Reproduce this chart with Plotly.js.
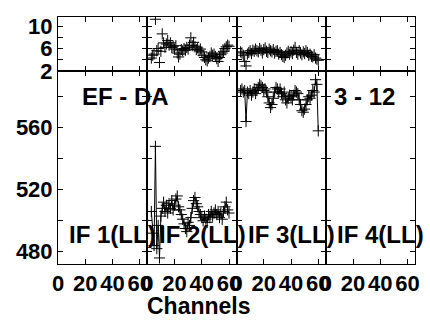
<!DOCTYPE html>
<html><head><meta charset="utf-8">
<script src="https://cdn.plot.ly/plotly-3.0.1.min.js"></script>
<style>html,body{margin:0;padding:0;background:#fff}</style>
</head><body><div id="chart" style="width:430px;height:326px"></div>
<script>
const channels = [3,4,5,6,7,8,9,10,11,12,13,14,15,16,17,18,19,20,21,22,23,24,25,26,27,28,29,30,31,32,33,34,35,36,37,38,39,40,41,42,43,44,45,46,47,48,49,50,51,52,53,54,55,56,57,58,59,60];
const ampIF2 = [4.3,4.8,5.0,11.2,5.6,6.0,3.5,5.5,8.6,7.0,6.2,6.8,7.4,6.6,7.0,6.2,6.4,5.9,6.5,5.2,4.5,5.0,5.8,5.6,6.0,5.7,6.2,5.9,6.6,7.9,6.5,7.1,6.3,5.8,6.1,5.6,5.9,5.4,4.8,4.4,4.0,3.8,4.3,4.6,5.2,4.8,5.0,4.6,4.2,3.7,4.4,4.9,5.2,5.5,6.0,6.3,6.6,6.4];
const ampIF3 = [5.4,5.2,4.8,3.7,2.9,5.0,5.3,5.6,5.1,5.7,5.5,5.9,5.6,5.4,6.0,5.7,5.2,5.8,6.1,5.5,5.3,5.9,5.6,5.4,5.8,5.2,5.5,5.6,5.0,5.3,4.9,4.6,4.4,4.8,5.2,5.5,5.0,5.4,5.1,5.7,6.2,5.3,5.0,5.6,5.2,4.9,5.4,5.1,5.6,5.3,4.8,5.0,4.6,4.5,4.9,4.3,4.1,3.9];
const phaseIF2 = [506,492,484,548,482,497,476,503,508,512,506,510,505,511,508,513,507,510,514,516,509,507,504,501,498,495,493,499,497,502,508,513,515,511,509,506,504,502,500,503,501,499,504,502,506,503,505,507,504,506,502,505,501,506,509,512,507,505];
const phaseIF3 = [584,585,583,584,564,583,582,584,581,583,585,582,584,586,588,587,586,584,585,583,580,576,573,575,579,583,586,585,583,585,582,580,583,578,576,579,581,580,578,581,584,583,582,578,575,571,570,572,575,578,580,579,581,584,583,591,588,558];
const ifLabels = ['IF 1(LL)','IF 2(LL)','IF 3(LL)','IF 4(LL)'];
const baselineLabel = 'EF - DA';
const timeLabel = '3 - 12';
const xTitle = 'Channels';
const xTickVals = [0,20,40,60];
const ampTickVals = [2,4,6,8,10];
const ampTickText = ['2','','6','','10'];
const phaseTickVals = [480,500,520,540,560,580];
const phaseTickText = ['480','','520','','560',''];

const W = 430, H = 326, ML = 58, MR = 15, MT = 17, MB = 62;
const PW = W - ML - MR, PH = H - MT - MB;
const split = 1 - 54 / PH;
const fontFam = 'Liberation Sans, Arial, sans-serif';
const tickFont = {family: fontFam, size: 22, color: '#000', weight: 'bold'};
const annFont = {family: fontFam, size: 24, color: '#000', weight: 'bold'};

const ampData = [null, ampIF2, ampIF3, null];
const phaseData = [null, phaseIF2, phaseIF3, null];

const traces = [];
const layout = {
  width: W, height: H,
  margin: {l: ML, r: MR, t: MT, b: MB},
  paper_bgcolor: '#fff', plot_bgcolor: '#fff',
  showlegend: false,
  annotations: []
};
function sfx(n){ return n === 1 ? '' : String(n); }
for (let i = 0; i < 4; i++) {
  const dom = [i/4, (i+1)/4];
  const bx = i+1, by = i+1, tx = i+5, ty = i+5;
  const common = {showline: true, linecolor: '#000', linewidth: 1, mirror: 'ticks', ticks: 'inside', ticklen: 5, tickcolor: '#000', showgrid: false, zeroline: false, tickfont: tickFont, fixedrange: true};
  layout['xaxis' + sfx(bx)] = Object.assign({}, common, {domain: dom, anchor: 'y' + sfx(by), range: [0, 65.5], tickmode: 'array', tickvals: xTickVals, ticktext: xTickVals.map(String)});
  layout['xaxis' + sfx(tx)] = Object.assign({}, common, {domain: dom, anchor: 'y' + sfx(ty), range: [0, 65.5], tickmode: 'array', tickvals: xTickVals, showticklabels: false});
  layout['yaxis' + sfx(by)] = Object.assign({}, common, {domain: [0, split], anchor: 'x' + sfx(bx), range: [472.1, 596.6], tickmode: 'array', tickvals: phaseTickVals, ticktext: phaseTickText, showticklabels: i === 0});
  layout['yaxis' + sfx(ty)] = Object.assign({}, common, {domain: [split, 1], anchor: 'x' + sfx(tx), range: [2, 11.6], tickmode: 'array', tickvals: ampTickVals, ticktext: ampTickText, showticklabels: i === 0});

  traces.push({type: 'scatter', mode: 'markers', x: ampData[i] ? channels : [], y: ampData[i] || [],
    xaxis: 'x' + sfx(tx), yaxis: 'y' + sfx(ty),
    marker: {symbol: 'cross-thin-open', size: 8, color: '#000', line: {width: 1, color: '#000'}}, hoverinfo: 'skip'});
  traces.push({type: 'scatter', mode: 'lines+markers', x: phaseData[i] ? channels : [], y: phaseData[i] || [],
    xaxis: 'x' + sfx(bx), yaxis: 'y' + sfx(by),
    line: {width: 1, color: '#000'},
    marker: {symbol: 'cross-thin-open', size: 8, color: '#000', line: {width: 1, color: '#000'}}, hoverinfo: 'skip'});

  layout.annotations.push({text: ifLabels[i], xref: 'paper', yref: 'paper', x: (i+1)/4 + 11/PW, y: (264-234)/PH,
    xanchor: 'right', yanchor: 'middle', showarrow: false, font: annFont});
}
layout.annotations.push({text: baselineLabel, xref: 'paper', yref: 'paper', x: (125-ML)/PW, y: (264-96)/PH,
  xanchor: 'center', yanchor: 'middle', showarrow: false, font: annFont});
layout.annotations.push({text: timeLabel, xref: 'paper', yref: 'paper', x: (364-ML)/PW, y: (264-96)/PH,
  xanchor: 'center', yanchor: 'middle', showarrow: false, font: annFont});
layout.annotations.push({text: xTitle, xref: 'paper', yref: 'paper', x: (199-ML)/PW, y: (264-306)/PH,
  xanchor: 'center', yanchor: 'middle', showarrow: false, font: {family: fontFam, size: 23, color: '#000', weight: 'bold'}});

Plotly.newPlot('chart', traces, layout, {staticPlot: true, displayModeBar: false});
</script>
</body></html>
